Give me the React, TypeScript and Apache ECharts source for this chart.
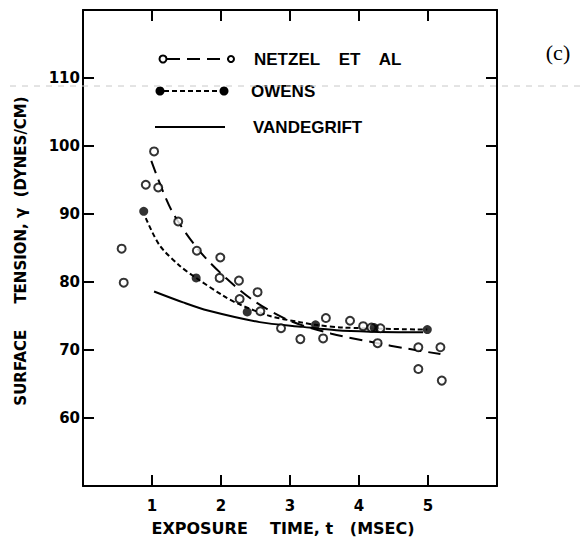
import React, { useEffect, useRef } from "react";
import * as echarts from "echarts";

// Netzel et al. data (open circles)
const netzelX = [0.56, 0.59, 0.91, 1.03, 1.09, 1.38, 1.65, 1.98, 1.99, 2.26, 2.27, 2.53, 2.57, 2.87, 3.15, 3.48, 3.52, 3.87, 4.06, 4.18, 4.27, 4.31, 4.86, 4.86, 5.18, 5.2];
const netzelY = [84.9, 79.9, 94.3, 99.2, 93.9, 88.9, 84.6, 80.6, 83.6, 80.2, 77.5, 78.5, 75.7, 73.2, 71.6, 71.7, 74.7, 74.3, 73.5, 73.3, 71.0, 73.2, 70.4, 67.2, 70.4, 65.5];
// Netzel fitted curve (long dashes)
const netzelFitX = [0.99, 1.28, 1.66, 2.08, 2.51, 3.0, 3.6, 4.27, 4.64, 5.18];
const netzelFitY = [97.8, 90.6, 84.9, 80.5, 77.0, 74.3, 72.4, 71.0, 70.3, 69.4];
// Owens data (filled dots)
const owensX = [0.88, 1.64, 2.38, 3.37, 4.22, 4.99];
const owensY = [90.4, 80.6, 75.6, 73.7, 73.3, 73.0];
// Owens fitted curve (short dashes)
const owensFitX = [0.91, 1.11, 1.4, 1.64, 2.03, 2.27, 2.71, 3.14, 3.37, 3.77, 4.99];
const owensFitY = [89.4, 85.4, 82.4, 80.6, 78.0, 76.7, 75.0, 74.1, 73.7, 73.3, 73.0];
// Vandegrift curve (solid)
const vandX = [1.03, 1.45, 1.81, 2.56, 3.19, 3.67, 4.16, 4.93];
const vandY = [78.6, 77.0, 75.8, 74.1, 73.4, 72.9, 72.7, 72.6];

const xTickLabels = ["1", "2", "3", "4", "5"];
const yTickLabels = ["60", "70", "80", "90", "100", "110"];

const legendNames = ["NETZEL    ET    AL", "OWENS", "VANDEGRIFT"];
const xTitle = "EXPOSURE    TIME, t   (MSEC)";
const yTitle = "SURFACE     TENSION, γ  (DYNES/CM)";
const panelLabel = "(c)";

const F = "'DejaVu Sans', sans-serif";
const FL = "'Liberation Sans', sans-serif";

const zip = (xs: number[], ys: number[]) => xs.map((x, i) => [x, ys[i]]);

export default function App() {
  const ref = useRef<HTMLDivElement>(null);
  useEffect(() => {
    if (!ref.current) return;
    const chart = echarts.init(ref.current, undefined, { renderer: "svg" });
    const axisBase = {
      type: "value" as const,
      axisLine: { show: true, onZero: false, lineStyle: { color: "#000", width: 2 } },
      axisTick: { show: true, inside: true, length: 11, lineStyle: { color: "#000", width: 2 } },
      splitLine: { show: false },
    };
    const lineBase = { type: "line" as const, smooth: 0.3, symbol: "none", z: 2 };
    chart.setOption({
      animation: false,
      backgroundColor: "#fff",
      grid: { left: 83, right: 86, top: 10, bottom: 62, containLabel: false },
      xAxis: [
        {
          ...axisBase,
          position: "bottom",
          min: 0,
          max: 6,
          interval: 1,
          axisLabel: {
            show: true,
            margin: 12,
            color: "#000",
            fontFamily: F,
            fontWeight: "bold",
            fontSize: 15,
            formatter: (v: number) => (xTickLabels.includes(String(v)) ? String(v) : ""),
          },
        },
        { ...axisBase, position: "top", min: 0, max: 6, interval: 1, axisLabel: { show: false } },
      ],
      yAxis: [
        {
          ...axisBase,
          position: "left",
          min: 50,
          max: 120,
          interval: 10,
          axisLabel: {
            show: true,
            margin: 3,
            color: "#000",
            fontFamily: F,
            fontWeight: "bold",
            fontSize: 15,
            formatter: (v: number) => (yTickLabels.includes(String(v)) ? String(v) : ""),
          },
        },
        { ...axisBase, position: "right", min: 50, max: 120, interval: 10, axisLabel: { show: false } },
      ],
      series: [
        { ...lineBase, data: zip(netzelFitX, netzelFitY), lineStyle: { color: "#000", width: 2, type: [13, 7] } },
        { ...lineBase, data: zip(owensFitX, owensFitY), lineStyle: { color: "#000", width: 2, type: [5, 3] } },
        { ...lineBase, data: zip(vandX, vandY), lineStyle: { color: "#000", width: 2, type: "solid" } },
        {
          type: "scatter",
          data: zip(netzelX, netzelY),
          symbol: "circle",
          symbolSize: 8,
          itemStyle: { color: "#fff", borderColor: "#000", borderWidth: 2 },
          z: 3,
        },
        {
          type: "scatter",
          data: zip(owensX, owensY),
          symbol: "circle",
          symbolSize: 9,
          itemStyle: { color: "#000" },
          z: 4,
        },
      ],
      graphic: [
        // scan artifact line
        {
          type: "line",
          shape: { x1: 10, y1: 86, x2: 583, y2: 86 },
          style: { stroke: "#c8c8c8", lineWidth: 1, lineDash: [6, 6] },
          z: 1,
        },
        // legend: Netzel
        {
          type: "line",
          shape: { x1: 167, y1: 59, x2: 228, y2: 59 },
          style: { stroke: "#000", lineWidth: 2, lineDash: [13, 7] },
        },
        { type: "circle", shape: { cx: 163, cy: 59, r: 3.5 }, style: { fill: "#fff", stroke: "#000", lineWidth: 2 } },
        { type: "circle", shape: { cx: 231, cy: 59, r: 3 }, style: { fill: "#fff", stroke: "#000", lineWidth: 2 } },
        {
          type: "text",
          x: 254,
          y: 59,
          style: { text: legendNames[0], fill: "#000", font: `bold 17px ${FL}`, verticalAlign: "middle", align: "left" },
        },
        // legend: Owens
        {
          type: "line",
          shape: { x1: 164, y1: 91, x2: 220, y2: 91 },
          style: { stroke: "#000", lineWidth: 2, lineDash: [5, 3] },
        },
        { type: "circle", shape: { cx: 160, cy: 91, r: 4.5 }, style: { fill: "#000" } },
        { type: "circle", shape: { cx: 224, cy: 91, r: 4.5 }, style: { fill: "#000" } },
        {
          type: "text",
          x: 251,
          y: 91,
          style: { text: legendNames[1], fill: "#000", font: `bold 17px ${FL}`, verticalAlign: "middle", align: "left" },
        },
        // legend: Vandegrift
        {
          type: "line",
          shape: { x1: 155, y1: 127, x2: 225, y2: 127 },
          style: { stroke: "#000", lineWidth: 2 },
        },
        {
          type: "text",
          x: 253,
          y: 127,
          style: { text: legendNames[2], fill: "#000", font: `bold 17px ${FL}`, verticalAlign: "middle", align: "left" },
        },
        // panel label
        {
          type: "text",
          x: 558,
          y: 52,
          style: { text: panelLabel, fill: "#000", font: `22px 'Liberation Serif', serif`, verticalAlign: "middle", align: "center" },
        },
        // x title
        {
          type: "text",
          x: 283,
          y: 528,
          style: { text: xTitle, fill: "#000", font: `bold 16px ${F}`, verticalAlign: "middle", align: "center" },
        },
        // y title
        {
          type: "text",
          x: 21,
          y: 251,
          rotation: Math.PI / 2,
          style: { text: yTitle, fill: "#000", font: `bold 15px ${F}`, verticalAlign: "middle", align: "center" },
        },
      ],
    });
    return () => chart.dispose();
  }, []);
  return <div ref={ref} style={{ position: "fixed", left: 0, top: 0, width: 583, height: 548 }} />;
}
